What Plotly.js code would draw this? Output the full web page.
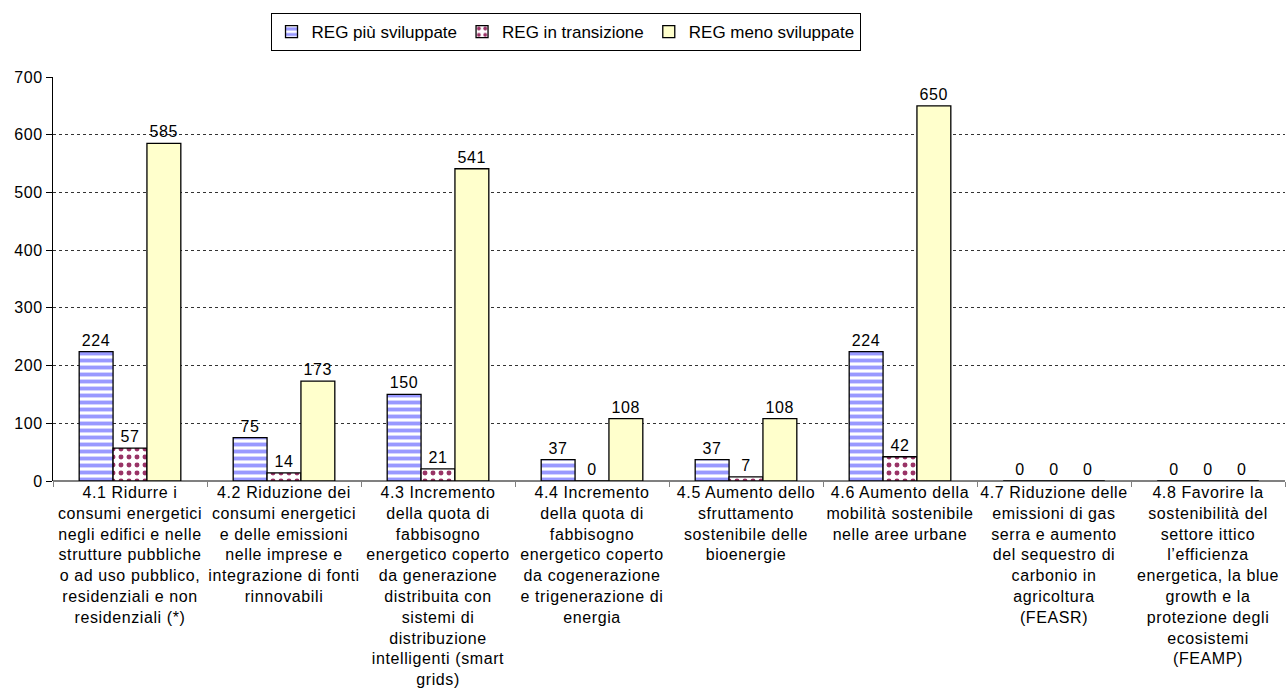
<!DOCTYPE html>
<html>
<head>
<meta charset="utf-8">
<script src="https://cdn.plot.ly/plotly-3.0.1.min.js"></script>
<style>
html,body{margin:0;padding:0;background:#fff;}
#chart{width:1287px;height:697px;}
#chart svg text{letter-spacing:0.6px;}
#chart svg .legend text{letter-spacing:0;}
</style>
</head>
<body>
<div id="chart"></div>
<script>
const categories = [
  "4.1 Ridurre i<br>consumi energetici<br>negli edifici e nelle<br>strutture pubbliche<br>o ad uso pubblico,<br>residenziali e non<br>residenziali (*)",
  "4.2 Riduzione dei<br>consumi energetici<br>e delle emissioni<br>nelle imprese e<br>integrazione di fonti<br>rinnovabili",
  "4.3 Incremento<br>della quota di<br>fabbisogno<br>energetico coperto<br>da generazione<br>distribuita con<br>sistemi di<br>distribuzione<br>intelligenti (smart<br>grids)",
  "4.4 Incremento<br>della quota di<br>fabbisogno<br>energetico coperto<br>da cogenerazione<br>e trigenerazione di<br>energia",
  "4.5 Aumento dello<br>sfruttamento<br>sostenibile delle<br>bioenergie",
  "4.6 Aumento della<br>mobilità sostenibile<br>nelle aree urbane",
  "4.7 Riduzione delle<br>emissioni di gas<br>serra e aumento<br>del sequestro di<br>carbonio in<br>agricoltura<br>(FEASR)",
  "4.8 Favorire la<br>sostenibilità del<br>settore ittico<br>l’efficienza<br>energetica, la blue<br>growth e la<br>protezione degli<br>ecosistemi<br>(FEAMP)"
];
const seriesNames = ["REG più sviluppate", "REG in transizione", "REG meno sviluppate"];
const regPiuSviluppate = [224, 75, 150, 37, 37, 224, 0, 0];
const regInTransizione = [57, 14, 21, 0, 7, 42, 0, 0];
const regMenoSviluppate = [585, 173, 541, 108, 108, 650, 0, 0];
const yTicks = [0, 100, 200, 300, 400, 500, 600, 700];

const FONT = "Arial, 'Liberation Sans', sans-serif";
const common = {
  type: "bar",
  x: categories,
  textposition: "outside",
  cliponaxis: false,
  constraintext: "none",
  textfont: {family: FONT, size: 16, color: "#000"},
  hoverinfo: "skip"
};

const traces = [
  Object.assign({}, common, {
    name: seriesNames[0],
    y: regPiuSviluppate,
    text: regPiuSviluppate.map(String),
    marker: {
      color: "#ffffff",
      line: {color: "#000", width: 1.3},
      pattern: {shape: "-", fgcolor: "#9999FF", bgcolor: "#ffffff", size: 7, solidity: 0.55, fillmode: "replace"}
    }
  }),
  Object.assign({}, common, {
    name: seriesNames[1],
    y: regInTransizione,
    text: regInTransizione.map(String),
    marker: {
      color: "#ffffff",
      line: {color: "#000", width: 1.3},
      pattern: {shape: ".", fgcolor: "#993366", bgcolor: "#ffffff", size: 8, solidity: 0.3, fillmode: "replace"}
    }
  }),
  Object.assign({}, common, {
    name: seriesNames[2],
    y: regMenoSviluppate,
    text: regMenoSviluppate.map(String),
    marker: {color: "#FFFFCC", line: {color: "#000", width: 1.3}}
  })
];

const layout = {
  width: 1287,
  height: 697,
  margin: {l: 53, r: 2, t: 77, b: 216},
  paper_bgcolor: "#fff",
  plot_bgcolor: "#fff",
  font: {family: FONT, size: 16, color: "#000"},
  barmode: "group",
  bargap: 0.34,
  bargroupgap: 0,
  showlegend: true,
  legend: {
    orientation: "h",
    x: 0.416, xanchor: "center",
    y: 1.158, yanchor: "top",
    bordercolor: "#000", borderwidth: 1,
    font: {family: FONT, size: 17, color: "#000"},
    traceorder: "normal",
    itemclick: false
  },
  xaxis: {
    type: "category",
    tickangle: 0,
    ticks: "outside",
    tickson: "boundaries",
    ticklen: 5,
    tickcolor: "#808080",
    showline: false,
    showgrid: false,
    tickfont: {family: FONT, size: 16, color: "#000"},
    automargin: false,
    fixedrange: true
  },
  yaxis: {
    range: [0, 700],
    tickvals: yTicks,
    ticktext: yTicks.map(String),
    ticks: "outside",
    ticklen: 6,
    tickcolor: "#000",
    showline: true,
    linecolor: "#000",
    linewidth: 1,
    showgrid: true,
    gridcolor: "#333",
    griddash: "dot",
    gridwidth: 1,
    zeroline: true,
    zerolinecolor: "#808080",
    zerolinewidth: 2,
    tickfont: {family: FONT, size: 16, color: "#000"},
    automargin: false,
    fixedrange: true
  }
};

Plotly.newPlot("chart", traces, layout, {displayModeBar: false, staticPlot: true});
</script>
</body>
</html>
